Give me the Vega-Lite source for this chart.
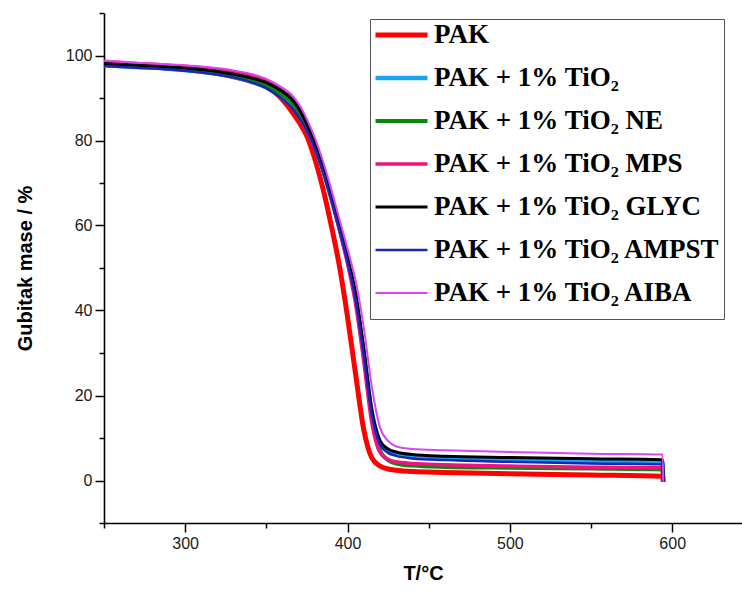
{
  "$schema": "https://vega.github.io/schema/vega-lite/v6.json",
  "autosize": {"type": "none"},
  "padding": {"left": 104, "top": 13, "right": 0, "bottom": 68},
  "width": 638,
  "height": 510,
  "background": "white",
  "config": {
    "view": {"stroke": null},
    "axis": {
      "domainColor": "black", "domainWidth": 1.6, "tickColor": "black", "tickWidth": 1.5,
      "labelColor": "#1a1a1a", "labelFont": "Liberation Sans", "labelFontSize": 16,
      "titleFont": "Liberation Sans", "titleFontWeight": "bold", "titleColor": "black",
      "grid": false, "labelOverlap": false, "labelFlush": false
    }
  },
  "data": {"values": [
    {"s":"PAK","T":250,"m":98.3},{"s":"PAK","T":270,"m":97.8},{"s":"PAK","T":290,"m":97.2},{"s":"PAK","T":310,"m":96.4},{"s":"PAK","T":330,"m":95.0},{"s":"PAK","T":340,"m":94.0},{"s":"PAK","T":350,"m":92.6},{"s":"PAK","T":360,"m":89.6},{"s":"PAK","T":365,"m":87.2},{"s":"PAK","T":370,"m":84.4},{"s":"PAK","T":375,"m":81.0},{"s":"PAK","T":380,"m":75.5},{"s":"PAK","T":385,"m":68.5},{"s":"PAK","T":390,"m":60.0},{"s":"PAK","T":395,"m":50.5},{"s":"PAK","T":400,"m":38.5},{"s":"PAK","T":405,"m":25.0},{"s":"PAK","T":410,"m":12.0},{"s":"PAK","T":415,"m":5.3},{"s":"PAK","T":420,"m":3.4},{"s":"PAK","T":425,"m":2.7},{"s":"PAK","T":430,"m":2.4},{"s":"PAK","T":440,"m":2.1},{"s":"PAK","T":460,"m":1.9},{"s":"PAK","T":500,"m":1.6},{"s":"PAK","T":550,"m":1.3},{"s":"PAK","T":594,"m":1.0},{"s":"PAK","T":594.5,"m":-0.3},
    {"s":"TIO2","T":250,"m":97.7},{"s":"TIO2","T":270,"m":97.3},{"s":"TIO2","T":290,"m":96.9},{"s":"TIO2","T":310,"m":96.2},{"s":"TIO2","T":330,"m":95.0},{"s":"TIO2","T":340,"m":94.0},{"s":"TIO2","T":350,"m":92.5},{"s":"TIO2","T":360,"m":90.0},{"s":"TIO2","T":365,"m":88.5},{"s":"TIO2","T":370,"m":86.0},{"s":"TIO2","T":375,"m":82.8},{"s":"TIO2","T":380,"m":78.5},{"s":"TIO2","T":385,"m":73.0},{"s":"TIO2","T":390,"m":66.5},{"s":"TIO2","T":395,"m":59.5},{"s":"TIO2","T":400,"m":52.0},{"s":"TIO2","T":405,"m":43.0},{"s":"TIO2","T":410,"m":30.0},{"s":"TIO2","T":415,"m":16.0},{"s":"TIO2","T":420,"m":9.0},{"s":"TIO2","T":425,"m":7.0},{"s":"TIO2","T":430,"m":6.2},{"s":"TIO2","T":440,"m":5.6},{"s":"TIO2","T":460,"m":5.2},{"s":"TIO2","T":500,"m":4.8},{"s":"TIO2","T":550,"m":4.5},{"s":"TIO2","T":594,"m":4.4},{"s":"TIO2","T":594.5,"m":-0.3},
    {"s":"NE","T":250,"m":97.9},{"s":"NE","T":270,"m":97.5},{"s":"NE","T":290,"m":97.1},{"s":"NE","T":310,"m":96.5},{"s":"NE","T":330,"m":95.3},{"s":"NE","T":340,"m":94.4},{"s":"NE","T":350,"m":93.0},{"s":"NE","T":360,"m":90.7},{"s":"NE","T":365,"m":89.2},{"s":"NE","T":370,"m":86.8},{"s":"NE","T":375,"m":83.3},{"s":"NE","T":380,"m":78.8},{"s":"NE","T":385,"m":73.0},{"s":"NE","T":390,"m":66.5},{"s":"NE","T":395,"m":59.5},{"s":"NE","T":400,"m":52.0},{"s":"NE","T":405,"m":43.0},{"s":"NE","T":410,"m":30.0},{"s":"NE","T":415,"m":15.0},{"s":"NE","T":420,"m":7.0},{"s":"NE","T":425,"m":4.8},{"s":"NE","T":430,"m":4.0},{"s":"NE","T":440,"m":3.5},{"s":"NE","T":460,"m":3.2},{"s":"NE","T":500,"m":3.0},{"s":"NE","T":550,"m":2.8},{"s":"NE","T":594,"m":2.6},{"s":"NE","T":594.5,"m":-0.3},
    {"s":"MPS","T":250,"m":98.6},{"s":"MPS","T":270,"m":98.1},{"s":"MPS","T":290,"m":97.7},{"s":"MPS","T":310,"m":97.1},{"s":"MPS","T":330,"m":96.1},{"s":"MPS","T":340,"m":95.3},{"s":"MPS","T":350,"m":94.0},{"s":"MPS","T":360,"m":91.7},{"s":"MPS","T":365,"m":90.2},{"s":"MPS","T":370,"m":87.6},{"s":"MPS","T":375,"m":84.0},{"s":"MPS","T":380,"m":79.3},{"s":"MPS","T":385,"m":73.3},{"s":"MPS","T":390,"m":66.5},{"s":"MPS","T":395,"m":59.0},{"s":"MPS","T":400,"m":51.0},{"s":"MPS","T":405,"m":41.5},{"s":"MPS","T":410,"m":28.0},{"s":"MPS","T":415,"m":13.5},{"s":"MPS","T":420,"m":6.6},{"s":"MPS","T":425,"m":5.0},{"s":"MPS","T":430,"m":4.4},{"s":"MPS","T":440,"m":4.0},{"s":"MPS","T":460,"m":3.7},{"s":"MPS","T":500,"m":3.4},{"s":"MPS","T":550,"m":3.1},{"s":"MPS","T":594,"m":3.0},{"s":"MPS","T":594.5,"m":-0.3},
    {"s":"GLYC","T":250,"m":98.1},{"s":"GLYC","T":270,"m":97.7},{"s":"GLYC","T":290,"m":97.3},{"s":"GLYC","T":310,"m":96.7},{"s":"GLYC","T":330,"m":95.6},{"s":"GLYC","T":340,"m":94.8},{"s":"GLYC","T":350,"m":93.6},{"s":"GLYC","T":360,"m":91.5},{"s":"GLYC","T":365,"m":90.0},{"s":"GLYC","T":370,"m":87.5},{"s":"GLYC","T":375,"m":83.8},{"s":"GLYC","T":380,"m":79.3},{"s":"GLYC","T":385,"m":73.5},{"s":"GLYC","T":390,"m":67.0},{"s":"GLYC","T":395,"m":60.0},{"s":"GLYC","T":400,"m":52.5},{"s":"GLYC","T":405,"m":44.0},{"s":"GLYC","T":410,"m":31.0},{"s":"GLYC","T":415,"m":16.5},{"s":"GLYC","T":420,"m":9.4},{"s":"GLYC","T":425,"m":7.4},{"s":"GLYC","T":430,"m":6.7},{"s":"GLYC","T":440,"m":6.1},{"s":"GLYC","T":460,"m":5.7},{"s":"GLYC","T":500,"m":5.4},{"s":"GLYC","T":550,"m":5.1},{"s":"GLYC","T":594,"m":4.9},{"s":"GLYC","T":594.5,"m":-0.3},
    {"s":"AMPST","T":250,"m":97.5},{"s":"AMPST","T":270,"m":97.1},{"s":"AMPST","T":290,"m":96.7},{"s":"AMPST","T":310,"m":96.0},{"s":"AMPST","T":330,"m":94.8},{"s":"AMPST","T":340,"m":93.8},{"s":"AMPST","T":350,"m":92.3},{"s":"AMPST","T":360,"m":89.7},{"s":"AMPST","T":365,"m":88.0},{"s":"AMPST","T":370,"m":85.5},{"s":"AMPST","T":375,"m":82.3},{"s":"AMPST","T":380,"m":78.0},{"s":"AMPST","T":385,"m":72.5},{"s":"AMPST","T":390,"m":66.0},{"s":"AMPST","T":395,"m":59.0},{"s":"AMPST","T":400,"m":51.5},{"s":"AMPST","T":405,"m":42.5},{"s":"AMPST","T":410,"m":29.5},{"s":"AMPST","T":415,"m":15.5},{"s":"AMPST","T":420,"m":8.5},{"s":"AMPST","T":425,"m":6.5},{"s":"AMPST","T":430,"m":5.8},{"s":"AMPST","T":440,"m":5.2},{"s":"AMPST","T":460,"m":4.8},{"s":"AMPST","T":500,"m":4.4},{"s":"AMPST","T":550,"m":4.0},{"s":"AMPST","T":594,"m":3.8},{"s":"AMPST","T":594.5,"m":-0.3},
    {"s":"AIBA","T":250,"m":98.8},{"s":"AIBA","T":270,"m":98.3},{"s":"AIBA","T":290,"m":97.9},{"s":"AIBA","T":310,"m":97.4},{"s":"AIBA","T":330,"m":96.5},{"s":"AIBA","T":340,"m":95.7},{"s":"AIBA","T":350,"m":94.5},{"s":"AIBA","T":360,"m":92.4},{"s":"AIBA","T":365,"m":91.0},{"s":"AIBA","T":370,"m":88.6},{"s":"AIBA","T":375,"m":85.0},{"s":"AIBA","T":380,"m":80.5},{"s":"AIBA","T":385,"m":75.0},{"s":"AIBA","T":390,"m":68.5},{"s":"AIBA","T":395,"m":61.5},{"s":"AIBA","T":400,"m":54.5},{"s":"AIBA","T":405,"m":47.0},{"s":"AIBA","T":410,"m":36.0},{"s":"AIBA","T":415,"m":22.0},{"s":"AIBA","T":420,"m":12.5},{"s":"AIBA","T":425,"m":9.3},{"s":"AIBA","T":430,"m":8.0},{"s":"AIBA","T":440,"m":7.4},{"s":"AIBA","T":460,"m":7.1},{"s":"AIBA","T":500,"m":6.7},{"s":"AIBA","T":550,"m":6.3},{"s":"AIBA","T":594,"m":6.1},{"s":"AIBA","T":594.5,"m":-0.3}
  ]},
  "mark": {"type": "line", "interpolate": "monotone"},
  "encoding": {
    "x": {
      "field": "T", "type": "quantitative",
      "scale": {"domain": [250, 643], "nice": false, "zero": false},
      "axis": {
        "values": [250, 300, 350, 400, 450, 500, 550, 600],
        "labelExpr": "datum.value % 100 === 0 ? datum.label : ''",
        "tickSize": {"condition": {"test": "datum.value % 100 !== 0", "value": 5}, "value": 9},
        "labelPadding": 3,
        "title": "T/°C", "titleFontSize": 20, "titlePadding": 12
      }
    },
    "y": {
      "field": "m", "type": "quantitative",
      "scale": {"domain": [-10, 110], "nice": false, "zero": false},
      "axis": {
        "values": [-10, 0, 10, 20, 30, 40, 50, 60, 70, 80, 90, 100, 110],
        "labelExpr": "datum.value % 20 === 0 && datum.value >= 0 && datum.value <= 100 ? datum.label : ''",
        "tickSize": {"condition": {"test": "datum.value % 20 !== 0", "value": 5}, "value": 9},
        "labelPadding": 3,
        "title": "Gubitak mase / %", "titleFontSize": 20, "titlePadding": 30
      }
    },
    "color": {
      "field": "s", "type": "nominal",
      "scale": {
        "domain": ["PAK", "TIO2", "NE", "MPS", "GLYC", "AMPST", "AIBA"],
        "range": ["#FF0000", "#1BA4F0", "#0A8A0A", "#F0137C", "#000000", "#1A24B8", "#D946F2"]
      },
      "legend": {
        "title": " ", "titleOrient": "bottom", "titleFontSize": 8, "titlePadding": 2,
        "orient": "none", "legendX": 266, "legendY": 6,
        "fillColor": "white", "strokeColor": "#555555", "padding": 3,
        "symbolType": "stroke", "symbolSize": 2704, "clipHeight": 26, "rowPadding": 16,
        "labelFont": "Liberation Serif", "labelFontWeight": "bold", "labelFontSize": 27,
        "labelColor": "black", "labelOffset": 4, "labelLimit": 400,
        "labelExpr": "{'PAK':'PAK','TIO2':'PAK + 1% TiO₂','NE':'PAK + 1% TiO₂ NE','MPS':'PAK + 1% TiO₂ MPS','GLYC':'PAK + 1% TiO₂ GLYC','AMPST':'PAK + 1% TiO₂ AMPST','AIBA':'PAK + 1% TiO₂ AIBA'}[datum.label]"
      }
    },
    "strokeWidth": {
      "field": "s", "type": "nominal",
      "scale": {
        "domain": ["PAK", "TIO2", "NE", "MPS", "GLYC", "AMPST", "AIBA"],
        "range": [5, 2, 2, 2, 2, 2, 2]
      },
      "legend": {
        "title": " ", "titleOrient": "bottom", "titleFontSize": 8, "titlePadding": 2,
        "orient": "none", "legendX": 266, "legendY": 6,
        "fillColor": "white", "strokeColor": "#555555", "padding": 3,
        "symbolType": "stroke", "symbolSize": 2704, "clipHeight": 26, "rowPadding": 16,
        "labelFont": "Liberation Serif", "labelFontWeight": "bold", "labelFontSize": 27,
        "labelColor": "black", "labelOffset": 4, "labelLimit": 400,
        "labelExpr": "{'PAK':'PAK','TIO2':'PAK + 1% TiO₂','NE':'PAK + 1% TiO₂ NE','MPS':'PAK + 1% TiO₂ MPS','GLYC':'PAK + 1% TiO₂ GLYC','AMPST':'PAK + 1% TiO₂ AMPST','AIBA':'PAK + 1% TiO₂ AIBA'}[datum.label]"
      }
    }
  }
}
